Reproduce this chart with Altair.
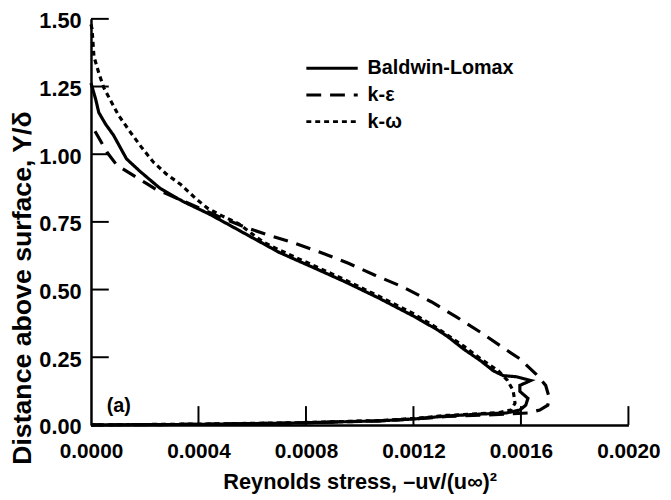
import altair as alt
import pandas as pd

series_names = ["Baldwin-Lomax", "k-ε", "k-ω"]

bl_x = [0.0, 0.000018, 0.000029, 0.000055, 0.000084, 0.000132, 0.000183, 0.000257, 0.000341,
        0.000440, 0.000525, 0.000587, 0.000701, 0.000826, 0.000947, 0.001068, 0.001204, 0.001288,
        0.001325, 0.001387, 0.001450, 0.001497, 0.001534, 0.001582, 0.001637, 0.001596, 0.001596,
        0.001626, 0.001618, 0.001596, 0.001545, 0.001450, 0.001325, 0.001204, 0.001075, 0.000763,
        0.000396, 0.0]
bl_y = [1.263, 1.201, 1.154, 1.110, 1.070, 0.983, 0.936, 0.874, 0.826,
        0.779, 0.733, 0.699, 0.637, 0.582, 0.528, 0.470, 0.400, 0.352,
        0.328, 0.280, 0.237, 0.200, 0.182, 0.178, 0.164, 0.146, 0.124,
        0.098, 0.073, 0.055, 0.044, 0.040, 0.033, 0.022, 0.015, 0.007,
        0.002, 0.0]

ke_x = [0.000015, 0.000059, 0.000095, 0.000147, 0.000206, 0.000242, 0.000286, 0.000396, 0.000506,
        0.000591, 0.000672, 0.000752, 0.000855, 0.000958, 0.001057, 0.001160, 0.001266, 0.001358,
        0.001450, 0.001552, 0.001596, 0.001655, 0.001692, 0.001706, 0.001700, 0.001670, 0.001626,
        0.001545, 0.001450, 0.001325, 0.001204, 0.001075, 0.000763, 0.000396, 0.0]
ke_y = [1.085, 1.008, 0.961, 0.928, 0.892, 0.870, 0.852, 0.804, 0.757,
        0.724, 0.698, 0.673, 0.637, 0.597, 0.553, 0.510, 0.455, 0.400,
        0.342, 0.273, 0.244, 0.189, 0.146, 0.098, 0.073, 0.055, 0.044,
        0.040, 0.036, 0.031, 0.022, 0.015, 0.007, 0.002, 0.0]

kw_x = [0.0, 0.000004, 0.000011, 0.000029, 0.000048, 0.000073, 0.000103, 0.000147, 0.000187,
        0.000231, 0.000279, 0.000334, 0.000389, 0.000433, 0.000488, 0.000550, 0.000591, 0.000642,
        0.000701, 0.000826, 0.000947, 0.001068, 0.001193, 0.001288, 0.001387, 0.001450, 0.001516,
        0.001550, 0.001571, 0.001578, 0.001563, 0.001520, 0.001450, 0.001325, 0.001204, 0.001075,
        0.000763, 0.000396, 0.0]
kw_y = [1.480, 1.463, 1.361, 1.300, 1.245, 1.198, 1.143, 1.081, 1.027,
        0.972, 0.928, 0.888, 0.837, 0.801, 0.772, 0.743, 0.712, 0.675,
        0.646, 0.590, 0.535, 0.477, 0.415, 0.358, 0.291, 0.244, 0.200,
        0.164, 0.127, 0.080, 0.055, 0.046, 0.042, 0.035, 0.024, 0.016,
        0.008, 0.003, 0.0]

x_ticks = [0.0, 0.0004, 0.0008, 0.0012, 0.0016, 0.0020]
y_ticks = [0.0, 0.25, 0.50, 0.75, 1.00, 1.25, 1.50]

dashes = [[1, 0], [15, 9], [5, 4]]

rows = []
for name, xs, ys in zip(series_names, [bl_x, ke_x, kw_x], [bl_y, ke_y, kw_y]):
    for i, (xv, yv) in enumerate(zip(xs, ys)):
        rows.append({"series": name, "x": xv, "y": yv, "order": i})
df = pd.DataFrame(rows)

FONT = "Liberation Sans"
W, H = 544, 411

xscale = alt.Scale(domain=[0, 0.002], nice=False, zero=False)
yscale = alt.Scale(domain=[0, 1.5], nice=False, zero=False)

lines = alt.Chart(df).mark_line(strokeWidth=3.2, color="black", strokeCap="butt").encode(
    x=alt.X("x:Q", scale=xscale,
            axis=alt.Axis(values=x_ticks, format=".4f", title="Reynolds stress, –uv/(u∞)²",
                          titlePadding=10)),
    y=alt.Y("y:Q", scale=yscale,
            axis=alt.Axis(values=y_ticks, format=".2f", title="Distance above surface, Y/δ",
                          titleX=-61, titleY=272, titleBaseline="alphabetic")),
    strokeDash=alt.StrokeDash("series:N", scale=alt.Scale(domain=series_names, range=dashes),
                              legend=None),
    order="order:Q",
)

xt = alt.Chart(pd.DataFrame({"v": x_ticks[1:]})).mark_rule(color="black", strokeWidth=2).encode(
    x=alt.X("v:Q", scale=xscale), y=alt.value(H), y2=alt.value(H - 19))
yt = alt.Chart(pd.DataFrame({"v": y_ticks[1:]})).mark_rule(color="black", strokeWidth=2).encode(
    y=alt.Y("v:Q", scale=yscale), x=alt.value(0), x2=alt.value(18))

layers = [lines, xt, yt]
leg_y = [50, 77, 104]
for name, d, ly in zip(series_names, dashes, leg_y):
    ldf = pd.DataFrame({"label": [name]})
    layers.append(alt.Chart(ldf).mark_rule(color="black", strokeWidth=3, strokeDash=d,
                                           strokeCap="butt").encode(
        x=alt.value(218), x2=alt.value(270), y=alt.value(ly)))
    layers.append(alt.Chart(ldf).mark_text(font=FONT, fontSize=20, fontWeight="bold",
                                           align="left", baseline="middle", color="black").encode(
        x=alt.value(280), y=alt.value(ly), text="label:N"))

layers.append(alt.Chart(pd.DataFrame({"label": ["(a)"]})).mark_text(
    font=FONT, fontSize=20, fontWeight="bold", align="left", baseline="middle", color="black").encode(
    x=alt.value(16), y=alt.value(392), text="label:N"))

chart = alt.layer(*layers).properties(
    width=W, height=H,
    autosize=alt.AutoSizeParams(type="none"),
    padding={"left": 84, "top": 8, "right": 35, "bottom": 72},
    background="white",
).configure_view(stroke=None).configure_axis(
    grid=False, ticks=False, domainColor="black", domainWidth=2.5,
    labelFont=FONT, labelFontWeight="bold", labelColor="black",
    titleFont=FONT, titleFontWeight="bold", titleColor="black",
).configure_axisX(labelPadding=16, labelFontSize=21, titleFontSize=22, labelFlush=False
).configure_axisY(labelPadding=10, labelFontSize=22, labelOffset=2, titleFontSize=27)

chart.save("out.html", embed_options={"renderer": "svg", "actions": False})
